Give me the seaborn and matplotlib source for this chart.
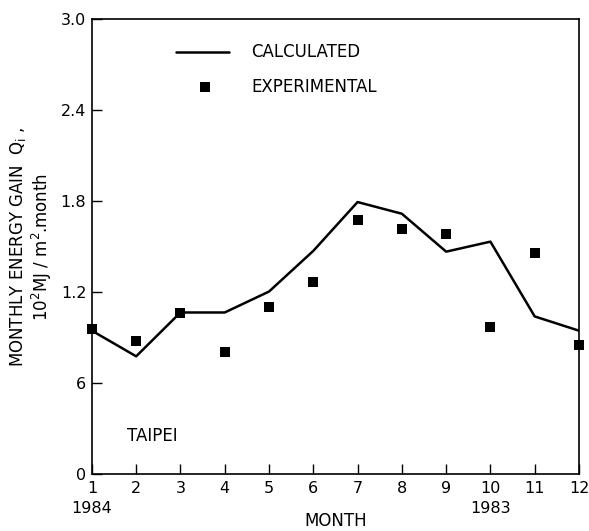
import matplotlib
matplotlib.use("Agg")
import matplotlib.pyplot as plt
import seaborn as sns
import pandas as pd
from matplotlib.ticker import MultipleLocator, FixedLocator

months = [1, 2, 3, 4, 5, 6, 7, 8, 9, 10, 11, 12]
calculated = [0.946, 0.777, 1.066, 1.066, 1.204, 1.472, 1.794, 1.717, 1.467, 1.533, 1.040, 0.946]
experimental = [0.957, 0.880, 1.062, 0.808, 1.099, 1.268, 1.673, 1.614, 1.585, 0.968, 1.461, 0.854]
y_ticks = [0, 0.6, 1.2, 1.8, 2.4, 3.0]
y_tick_labels = ["0", "6", "1.2", "1.8", "2.4", "3.0"]

df = pd.DataFrame({"month": months, "calc": calculated, "exp": experimental})

sns.set_style("white")
plt.rcParams["font.family"] = ["DejaVu Sans"]
plt.rcParams["text.color"] = "black"
plt.rcParams["axes.labelcolor"] = "black"
plt.rcParams["xtick.color"] = "black"
plt.rcParams["ytick.color"] = "black"

fig = plt.figure(figsize=(5.89, 5.31), dpi=100)
ax = fig.add_axes([0.156, 0.107, 0.827, 0.857])

sns.lineplot(data=df, x="month", y="calc", ax=ax, color="black", linewidth=1.8,
             label="CALCULATED", legend=False)
sns.scatterplot(data=df, x="month", y="exp", ax=ax, color="black", marker="s",
                s=55, edgecolor="black", linewidth=0, label="EXPERIMENTAL",
                legend=False, zorder=3, clip_on=False)

ax.set_xlim(1, 12)
ax.set_ylim(0, 3.0)
ax.yaxis.set_major_locator(FixedLocator(y_ticks))
ax.set_yticklabels(y_tick_labels)
ax.yaxis.set_minor_locator(MultipleLocator(0.3))
ax.set_xticks(months)
ax.set_xticklabels([str(m) for m in months])

for s in ax.spines.values():
    s.set_color("black")
    s.set_linewidth(1.2)

ax.tick_params(axis="both", which="both", direction="in", colors="black",
               labelcolor="black", labelsize=11.5, width=1.0)
ax.tick_params(axis="y", which="major", length=7, pad=4)
ax.tick_params(axis="y", which="minor", length=7)
ax.tick_params(axis="x", which="major", length=7, pad=5)
ax.tick_params(left=True, bottom=True, right=False, top=False)

ax.set_xlabel("")
ax.set_ylabel("MONTHLY ENERGY GAIN  Q$_\\mathregular{i}$ ,\n10$^\\mathregular{2}$MJ / m$^\\mathregular{2}$.month",
              fontsize=12, labelpad=5, color="black", linespacing=1.1)

ax.text(1, -0.225, "1984", ha="center", va="center", fontsize=11.5)
ax.text(10, -0.225, "1983", ha="center", va="center", fontsize=11.5)
ax.text(6.5, -0.31, "MONTH", ha="center", va="center", fontsize=12)
ax.text(1.8, 0.25, "TAIPEI", ha="left", va="center", fontsize=12)

# legend drawn by hand in data coordinates
ax.plot([2.9, 4.1], [2.78, 2.78], color="black", linewidth=1.8)
ax.scatter([3.55], [2.55], color="black", marker="s", s=55, linewidth=0)
ax.text(4.6, 2.78, "CALCULATED", ha="left", va="center", fontsize=12)
ax.text(4.6, 2.55, "EXPERIMENTAL", ha="left", va="center", fontsize=12)

fig.savefig("out.png", dpi=100)
